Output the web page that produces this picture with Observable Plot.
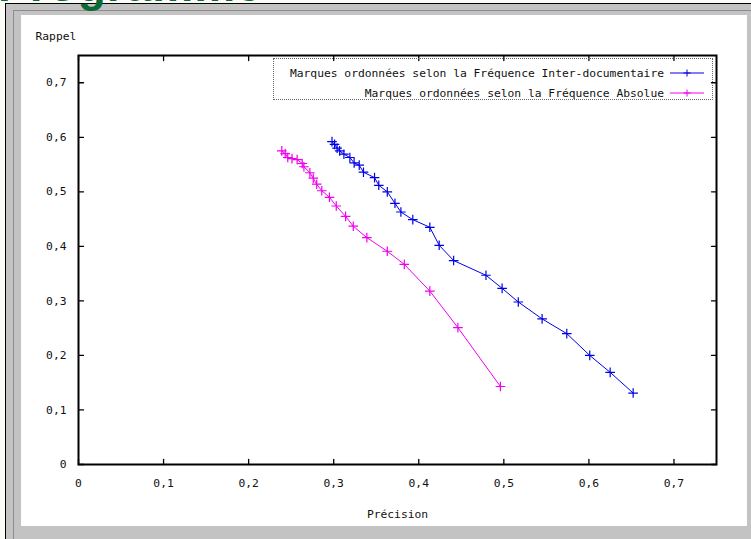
<!DOCTYPE html>
<html>
<head>
<meta charset="utf-8">
<script src="https://cdn.jsdelivr.net/npm/d3@7"></script>
<script src="https://cdn.jsdelivr.net/npm/@observablehq/plot@0.6"></script>
<style>
  html, body { margin: 0; padding: 0; background: #fff; }
  #page { position: relative; width: 751px; height: 539px; overflow: hidden; background: #fbfbf7; }
  #green { position: absolute; left: -2px; top: -42px; font: bold 46px "Liberation Sans", sans-serif; color: #0b6b38; letter-spacing: 1px; white-space: nowrap; }
  #outer { position: absolute; left: 5px; top: 3px; width: 760px; height: 560px; background: #c3c3c3; border-left: 1px solid #000; border-top: 1px solid #000; }
  #inner { position: absolute; left: 13px; top: 10px; width: 760px; height: 560px; border-left: 1px solid #8c8c8c; border-top: 1px solid #8c8c8c; }
  #panel { position: absolute; left: 21px; top: 15px; width: 726px; height: 511px; background: #fff; }
  #chart { position: absolute; left: 0; top: 0; }
  #legend { position: absolute; left: 273px; top: 58px; width: 438px; height: 40px; border: 1px dotted #666; font: 11.3px "DejaVu Sans Mono", monospace; color: #111; }
  .row { position: absolute; right: 8px; height: 14px; display: flex; align-items: center; white-space: nowrap; }
  .row svg { margin-left: 6px; }
</style>
</head>
<body>
<div id="page">
  <div id="outer"></div>
  <div id="inner"></div>
  <div id="green">Programme</div>
  <div id="panel"></div>
  <div id="chart"></div>
  <div id="legend"></div>
</div>
<script>
// Series: Précision (x) and Rappel (y)
const interDocPrecision = [0.298, 0.301, 0.304, 0.307, 0.312, 0.319, 0.324, 0.330, 0.335, 0.348, 0.353, 0.363, 0.372, 0.379, 0.393, 0.413, 0.424, 0.441, 0.479, 0.498, 0.517, 0.545, 0.574, 0.601, 0.625, 0.652];
const interDocRappel    = [0.592, 0.587, 0.580, 0.575, 0.569, 0.563, 0.553, 0.549, 0.536, 0.526, 0.512, 0.500, 0.479, 0.463, 0.449, 0.435, 0.402, 0.374, 0.347, 0.323, 0.298, 0.267, 0.240, 0.200, 0.169, 0.131];
const absoluePrecision  = [0.239, 0.243, 0.246, 0.251, 0.257, 0.263, 0.265, 0.272, 0.276, 0.280, 0.286, 0.295, 0.303, 0.314, 0.323, 0.339, 0.363, 0.383, 0.413, 0.446, 0.496];
const absolueRappel     = [0.575, 0.570, 0.563, 0.561, 0.559, 0.552, 0.546, 0.535, 0.525, 0.514, 0.502, 0.490, 0.474, 0.455, 0.437, 0.416, 0.391, 0.367, 0.318, 0.251, 0.143];
const seriesNames = ["Marques ordonnées selon la Fréquence Inter-documentaire", "Marques ordonnées selon la Fréquence Absolue"];
const seriesColors = ["#0000e6", "#f000f0"];
const xTicks = [0, 0.1, 0.2, 0.3, 0.4, 0.5, 0.6, 0.7];
const yTicks = [0, 0.1, 0.2, 0.3, 0.4, 0.5, 0.6, 0.7];
const xLabel = "Précision";
const yLabel = "Rappel";

const interDoc = interDocPrecision.map((x, i) => ({x, y: interDocRappel[i]}));
const absolue = absoluePrecision.map((x, i) => ({x, y: absolueRappel[i]}));
const fmt = d => d === 0 ? "0" : d3.format(".1f")(d).replace(".", ",");
const tickShape = {draw(ctx, l) { ctx.moveTo(0, 0); ctx.lineTo(0, -l); }};
const tk = {length: 5, anchor: "start", shape: tickShape, stroke: "black", strokeWidth: 1.3};

const chart = Plot.plot({
  width: 751, height: 539,
  marginLeft: 78, marginRight: 35, marginTop: 55, marginBottom: 75,
  style: {fontFamily: "DejaVu Sans Mono", fontSize: "11.3px", background: "transparent", color: "#111"},
  x: {domain: [0, 0.75]},
  y: {domain: [0, 0.75]},
  marks: [
    Plot.axisX({ticks: xTicks, tickSize: 0, tickPadding: 14, tickFormat: fmt, label: null}),
    Plot.axisY({ticks: yTicks, tickSize: 0, tickPadding: 12, tickFormat: fmt, label: null}),
    Plot.vector(xTicks, {x: d => d, frameAnchor: "bottom", rotate: 0, ...tk}),
    Plot.vector(xTicks, {x: d => d, frameAnchor: "top", rotate: 180, ...tk}),
    Plot.vector(yTicks, {y: d => d, frameAnchor: "left", rotate: 90, ...tk}),
    Plot.vector(yTicks, {y: d => d, frameAnchor: "right", rotate: -90, ...tk}),
    Plot.frame({stroke: "black", strokeWidth: 2}),
    Plot.line(interDoc, {x: "x", y: "y", stroke: seriesColors[0], strokeWidth: 1}),
    Plot.dot(interDoc, {x: "x", y: "y", symbol: "plus", r: 3.2, stroke: seriesColors[0], strokeWidth: 1.2}),
    Plot.line(absolue, {x: "x", y: "y", stroke: seriesColors[1], strokeWidth: 1}),
    Plot.dot(absolue, {x: "x", y: "y", symbol: "plus", r: 3.2, stroke: seriesColors[1], strokeWidth: 1.2}),
    Plot.text([yLabel], {frameAnchor: "top-left", dx: -43, dy: -19, textAnchor: "start", lineAnchor: "middle"}),
    Plot.text([xLabel], {frameAnchor: "bottom", dy: 50, lineAnchor: "middle"})
  ]
});
document.getElementById("chart").appendChild(chart);

// Legend
const legend = document.getElementById("legend");
seriesNames.forEach((name, i) => {
  const row = document.createElement("div");
  row.className = "row";
  row.style.top = (7 + i * 20) + "px";
  row.innerHTML = `<span>${name}</span><svg width="34" height="10"><line x1="0" y1="5" x2="34" y2="5" stroke="${seriesColors[i]}" stroke-width="1"/><path d="M17,1.5V8.5M13.5,5H20.5" stroke="${seriesColors[i]}" stroke-width="1"/></svg>`;
  legend.appendChild(row);
});
</script>
</body>
</html>
